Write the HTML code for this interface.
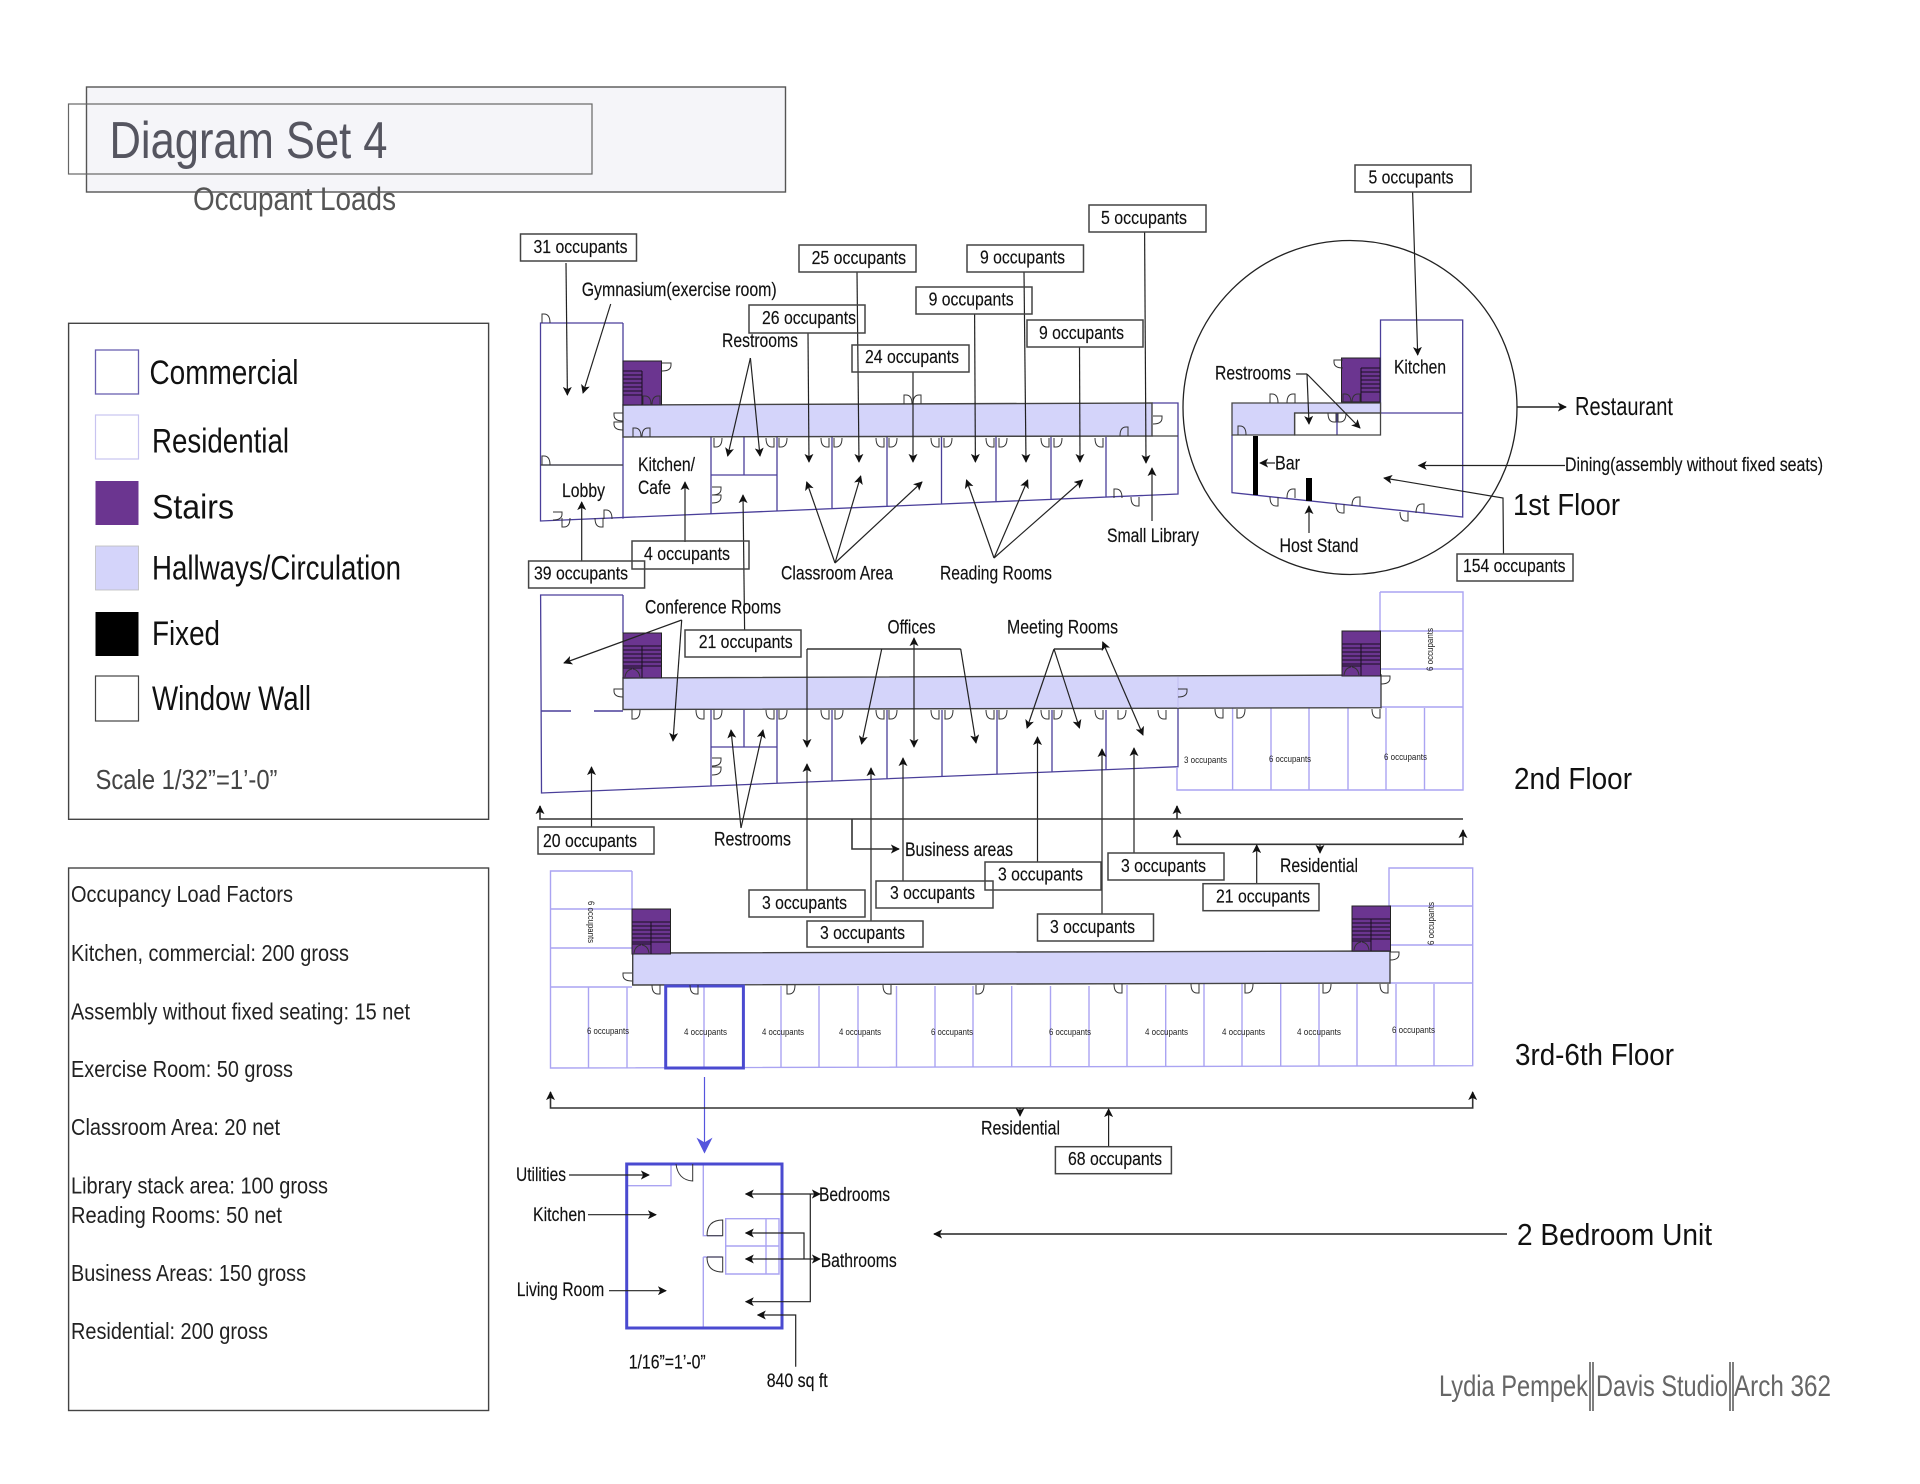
<!DOCTYPE html>
<html>
<head>
<meta charset="utf-8">
<style>
html,body{margin:0;padding:0;background:#fff;width:1920px;height:1484px;overflow:hidden}
svg{display:block}
text{font-family:"Liberation Sans",Arial,sans-serif;fill:#111}
.l{font-size:19px;stroke:#111;stroke-width:.15}
.o{font-size:18px;stroke:#111;stroke-width:.15}
.s{font-size:9.5px;fill:#222}
.f{font-size:31px}
.g{font-size:34px}
.k{font-size:23px;fill:#222}
.ar{fill:none;stroke:#222;stroke-width:1.2;marker-end:url(#a)}
.br{fill:none;stroke:#333;stroke-width:1.6}
.ln{fill:none;stroke:#222;stroke-width:1.2}
.box{fill:none;stroke:#444;stroke-width:1.5}
.c{fill:none;stroke:#4a3f9a;stroke-width:1.3}
.r{fill:none;stroke:#aaa4f2;stroke-width:1.4}
.h{fill:#d4d4fa;stroke:#444;stroke-width:1.4}
.d{fill:none;stroke:#333;stroke-width:1}
</style>
</head>
<body>
<svg width="1920" height="1484" viewBox="0 0 1920 1484" xmlns="http://www.w3.org/2000/svg">
<defs>
<marker id="a" viewBox="0 0 10 10" refX="9" refY="5" markerWidth="9" markerHeight="9" markerUnits="userSpaceOnUse" orient="auto-start-reverse"><path d="M0 0L10 5 0 10 2.5 5z" fill="#111"/></marker>
<marker id="b" viewBox="0 0 10 10" refX="9" refY="5" markerWidth="16" markerHeight="16" markerUnits="userSpaceOnUse" orient="auto"><path d="M0 0L10 5 0 10 3 5z" fill="#5555dd"/></marker>
<path id="dR" class="d" d="M0 0V9H2Q8 9 8 0"/>
<path id="dL" class="d" d="M8 0V9H6Q0 9 0 0"/>
<path id="uR" class="d" d="M0 9V0H2Q8 0 8 9"/>
<path id="uL" class="d" d="M8 9V0H6Q0 0 0 9"/>
<path id="sR" class="d" d="M0 0H9V2Q9 8 0 8"/>
<path id="sL" class="d" d="M9 0H0V2Q0 8 9 8"/>
<g id="st">
<rect width="38.5" height="45" fill="#6b3590" stroke="#222" stroke-width="1"/>
<path d="M0 13H38M0 17H38M0 21H38M0 25H38M0 29H38M0 33H38M19 13V45M0 35H19V45" stroke="#1a1020" stroke-width="1" fill="none"/>
<path class="d" d="M2 44Q3 37 9 36M17 44Q16 37 10 36" stroke="#ddd"/>
</g>
<g id="st1">
<rect width="38.5" height="44" fill="#6b3590" stroke="#222" stroke-width="1"/>
<path d="M19 10V44M0 10H19M0 14H19M0 18H19M0 22H19M0 26H19M0 30H19M0 34H19" stroke="#1a1020" stroke-width="1" fill="none"/>
</g>
</defs>

<!-- Title -->
<rect x="86.5" y="87" width="699" height="105" fill="#f5f5f9" stroke="#555" stroke-width="1.4"/>
<rect x="68.5" y="104" width="523.5" height="70" fill="none" stroke="#666" stroke-width="1.2"/>
<text x="109.5" y="158" font-size="52" textLength="278" lengthAdjust="spacingAndGlyphs" style="fill:#555560">Diagram Set 4</text>
<text x="193" y="210" font-size="32" textLength="203" lengthAdjust="spacingAndGlyphs" style="fill:#555">Occupant Loads</text>

<!-- Legend -->
<rect x="68.6" y="323.3" width="420" height="496" fill="#fff" stroke="#444" stroke-width="1.4"/>
<rect x="95.5" y="350" width="43" height="44" fill="#fff" stroke="#6a60b0" stroke-width="1.3"/>
<text class="g" x="149.5" y="384" textLength="149" lengthAdjust="spacingAndGlyphs">Commercial</text>
<rect x="95.5" y="415" width="43" height="44" fill="#fff" stroke="#c8c4f0" stroke-width="1.2"/>
<text class="g" x="152" y="452.5" textLength="137" lengthAdjust="spacingAndGlyphs">Residential</text>
<rect x="95.5" y="481" width="43" height="44" fill="#6b3590"/>
<text class="g" x="152" y="518.5" textLength="82" lengthAdjust="spacingAndGlyphs">Stairs</text>
<rect x="95.5" y="546" width="43" height="44" fill="#d4d4fa" stroke="#bbb" stroke-width=".8"/>
<text class="g" x="152" y="579.5" textLength="249" lengthAdjust="spacingAndGlyphs">Hallways/Circulation</text>
<rect x="95.5" y="612" width="43" height="44" fill="#000"/>
<text class="g" x="152" y="645" textLength="68" lengthAdjust="spacingAndGlyphs">Fixed</text>
<rect x="95.5" y="676" width="43" height="45" fill="#fff" stroke="#444" stroke-width="1.2"/>
<text class="g" x="152" y="710" textLength="159" lengthAdjust="spacingAndGlyphs">Window Wall</text>
<text x="95.5" y="789" font-size="28" textLength="182" lengthAdjust="spacingAndGlyphs" style="fill:#444">Scale 1/32”=1’-0”</text>

<!-- Factors -->
<rect x="68.6" y="868" width="420" height="542.5" fill="#fff" stroke="#444" stroke-width="1.4"/>
<text class="k" x="71" y="902" textLength="222" lengthAdjust="spacingAndGlyphs">Occupancy Load Factors</text>
<text class="k" x="71" y="961" textLength="278" lengthAdjust="spacingAndGlyphs">Kitchen, commercial: 200 gross</text>
<text class="k" x="71" y="1019.5" textLength="339" lengthAdjust="spacingAndGlyphs">Assembly without fixed seating: 15 net</text>
<text class="k" x="71" y="1077" textLength="222" lengthAdjust="spacingAndGlyphs">Exercise Room: 50 gross</text>
<text class="k" x="71" y="1135" textLength="209" lengthAdjust="spacingAndGlyphs">Classroom Area: 20 net</text>
<text class="k" x="71" y="1193.5" textLength="257" lengthAdjust="spacingAndGlyphs">Library stack area: 100 gross</text>
<text class="k" x="71" y="1223" textLength="211" lengthAdjust="spacingAndGlyphs">Reading Rooms: 50 net</text>
<text class="k" x="71" y="1281" textLength="235" lengthAdjust="spacingAndGlyphs">Business Areas: 150 gross</text>
<text class="k" x="71" y="1339" textLength="197" lengthAdjust="spacingAndGlyphs">Residential: 200 gross</text>

<!-- 1st floor plan -->
<path class="c" d="M623 323H540.5V521L1178 494V403H1152M623 465H540.5M623 323V519M711 437V514M711 475H777M744 437V475M777 437V511M832 437V509M887 437V506.5M941.5 437V504M996 437V502M1051 437V499.5M1106 437V497"/>
<path d="M540.5 465H623" stroke="#444" stroke-width="1.2"/>
<path class="h" d="M623 405L1152 403V436L623 437Z"/>
<path d="M1152 436H1178" stroke="#444" stroke-width="1.2"/>
<use href="#st1" x="623" y="361"/>
<g>
<use href="#uR" x="542" y="314"/><use href="#sR" x="662" y="363"/>
<use href="#uR" x="643" y="396"/><use href="#uL" x="652" y="396"/>
<use href="#sL" x="614" y="413"/><use href="#sL" x="614" y="422"/>
<use href="#uR" x="633" y="428"/><use href="#uL" x="642" y="428"/>
<use href="#uR" x="904" y="395"/><use href="#uL" x="913" y="395"/>
<use href="#uR" x="542" y="456"/>
<use href="#sR" x="553" y="512"/><use href="#dR" x="562" y="518"/>
<use href="#uR" x="604" y="510"/><use href="#dL" x="595" y="518"/>
<use href="#sR" x="712" y="487"/><use href="#sR" x="712" y="495"/>
<use href="#sR" x="1153" y="416"/><use href="#uL" x="1120" y="427"/>
<use href="#uR" x="1114" y="489"/><use href="#dL" x="1131" y="497"/>
<use href="#dR" x="714" y="438"/><use href="#dL" x="766" y="438"/><use href="#dR" x="779" y="438"/>
<use href="#dL" x="821" y="438"/><use href="#dR" x="834" y="438"/>
<use href="#dL" x="876" y="438"/><use href="#dR" x="889" y="438"/>
<use href="#dL" x="931" y="438"/><use href="#dR" x="944" y="438"/>
<use href="#dL" x="986" y="438"/><use href="#dR" x="999" y="438"/>
<use href="#dL" x="1041" y="438"/><use href="#dR" x="1054" y="438"/>
<use href="#dL" x="1095" y="438"/>
</g>

<!-- Restaurant -->
<circle cx="1350" cy="407.5" r="167" fill="none" stroke="#222" stroke-width="1.3"/>
<path class="c" d="M1380.5 413V320H1462.7V517L1232 492.7V435M1380.5 413H1462.7M1337 413V435"/>
<path d="M1232 403H1380.5V413H1294.6V435H1232Z" fill="#d4d4fa" stroke="#444" stroke-width="1.3"/>
<path d="M1294.6 413H1380.5V435H1294.6Z" fill="none" stroke="#444" stroke-width="1.3"/>
<use href="#st1" x="1342" y="358" transform="translate(2722 0) scale(-1 1)"/>
<rect x="1253" y="436" width="5" height="59" fill="#000"/>
<rect x="1306" y="478" width="6" height="23" fill="#000"/>
<g>
<use href="#uR" x="1270" y="394"/><use href="#uL" x="1287" y="394"/>
<use href="#sL" x="1334" y="360"/>
<use href="#uR" x="1343" y="394"/><use href="#uL" x="1352" y="394"/>
<use href="#uR" x="1238" y="426"/>
<use href="#dL" x="1328" y="413"/><use href="#dR" x="1338" y="413"/>
<use href="#dL" x="1270" y="497"/><use href="#uL" x="1287" y="489"/>
<use href="#dL" x="1336" y="504"/><use href="#uL" x="1352" y="497"/>
<use href="#dL" x="1400" y="512"/><use href="#uL" x="1416" y="504"/>
</g>

<!-- 2nd floor plan -->
<path class="c" d="M623 595H540.6L541.5 793L1178 766.7V708M623 595V633M711 710V786M711 747H777M744 710V747M777 710V783M832 710V781M887 710V779M942 710V776.5M997 710V774M1052 710V772M1106 710V770"/>
<path d="M541 711H571M594 711H623" stroke="#4a3f9a" stroke-width="1.6"/>
<path class="r" d="M1380 592H1463V790H1177V767M1380 592V675M1380 631H1463M1380 669H1463M1380 707H1463M1232.6 708V790M1271 708V790M1309 708V790M1348 708V790M1386 708V790M1424.5 708V790"/>
<path class="h" d="M623 678L1381 675V707.7L623 709.5Z"/>
<path d="M1178 677V708" stroke="#c0bcf0" stroke-width="1"/>
<use href="#st" x="623" y="633"/><use href="#st" x="1342" y="631"/>
<g>
<use href="#dR" x="632" y="710"/><use href="#dL" x="696" y="710"/><use href="#dR" x="714" y="710"/>
<use href="#dL" x="766" y="710"/><use href="#dR" x="779" y="710"/><use href="#dL" x="821" y="710"/><use href="#dR" x="835" y="710"/>
<use href="#dL" x="876" y="710"/><use href="#dR" x="889" y="710"/><use href="#dL" x="931" y="710"/><use href="#dR" x="945" y="710"/>
<use href="#dL" x="986" y="710"/><use href="#dR" x="999" y="710"/><use href="#dL" x="1041" y="710"/><use href="#dR" x="1054" y="710"/>
<use href="#dL" x="1095" y="710"/><use href="#dR" x="1118" y="710"/><use href="#dL" x="1158" y="710"/>
<use href="#dL" x="1215" y="709"/><use href="#dR" x="1237" y="709"/><use href="#dL" x="1372" y="709"/>
<use href="#sR" x="1178" y="689"/><use href="#sR" x="1381" y="676"/>
<use href="#sL" x="614" y="689"/><use href="#sR" x="712" y="758"/><use href="#sR" x="712" y="767"/>
</g>
<text class="s" x="1184" y="763" textLength="43" lengthAdjust="spacingAndGlyphs">3 occupants</text>
<text class="s" x="1269" y="762" textLength="42" lengthAdjust="spacingAndGlyphs">6 occupants</text>
<text class="s" x="1384" y="760" textLength="43" lengthAdjust="spacingAndGlyphs">6 occupants</text>
<text class="s" transform="translate(1433 671) rotate(-90)" textLength="43" lengthAdjust="spacingAndGlyphs">6 occupants</text>

<!-- 3rd-6th floor plan -->
<path class="r" d="M632 871H550.5V1068L1472.7 1065.7V868H1389V907M632 871V909M550.5 909H632M550.5 948H632M550.5 987H632M1389 906H1472.7M1389 945H1472.7M1389 983H1472.7M588.5 987V1068M627 987V1068M781 986V1068M819 986V1068M858 986V1067M896.5 986V1067M935 986V1067M973 986V1067M1011.7 986V1067M1050.5 986V1067M1089 986V1067M1127 985V1067M1165.7 985V1067M1204 984V1066M1242 984V1066M1280.7 984V1066M1319 984V1066M1357 984V1066M1396 984V1066M1434 984V1066M704 986V1068"/>
<path class="h" d="M632.7 953L1390 951V983L632.7 985Z"/>
<use href="#st" x="632" y="909"/><use href="#st" x="1352" y="906"/>
<rect x="665.7" y="986" width="77.7" height="82" fill="none" stroke="#4a4ad0" stroke-width="3"/>
<g>
<use href="#dL" x="652" y="985"/><use href="#dL" x="690" y="985"/><use href="#dR" x="787" y="985"/>
<use href="#dL" x="883" y="985"/><use href="#dR" x="976" y="985"/><use href="#dL" x="1114" y="984"/>
<use href="#dL" x="1191" y="984"/><use href="#dR" x="1245" y="984"/><use href="#dR" x="1323" y="984"/><use href="#dL" x="1380" y="984"/>
<use href="#sL" x="623" y="973"/><use href="#sR" x="1390" y="952"/>
</g>
<text class="s" x="587" y="1034" textLength="42" lengthAdjust="spacingAndGlyphs">6 occupants</text>
<text class="s" x="684" y="1035" textLength="43" lengthAdjust="spacingAndGlyphs">4 occupants</text>
<text class="s" x="762" y="1035" textLength="42" lengthAdjust="spacingAndGlyphs">4 occupants</text>
<text class="s" x="839" y="1035" textLength="42" lengthAdjust="spacingAndGlyphs">4 occupants</text>
<text class="s" x="931" y="1035" textLength="42" lengthAdjust="spacingAndGlyphs">6 occupants</text>
<text class="s" x="1049" y="1035" textLength="42" lengthAdjust="spacingAndGlyphs">6 occupants</text>
<text class="s" x="1145" y="1035" textLength="43" lengthAdjust="spacingAndGlyphs">4 occupants</text>
<text class="s" x="1222" y="1035" textLength="43" lengthAdjust="spacingAndGlyphs">4 occupants</text>
<text class="s" x="1297" y="1035" textLength="44" lengthAdjust="spacingAndGlyphs">4 occupants</text>
<text class="s" x="1392" y="1033" textLength="43" lengthAdjust="spacingAndGlyphs">6 occupants</text>
<text class="s" transform="translate(588 901) rotate(90)" textLength="42" lengthAdjust="spacingAndGlyphs">6 occupants</text>
<text class="s" transform="translate(1434 945) rotate(-90)" textLength="43" lengthAdjust="spacingAndGlyphs">6 occupants</text>

<!-- Unit -->
<path class="r" d="M627 1185.7H671V1164M703.3 1164V1235.7H722M703.3 1257H722M703.3 1257V1328M725.7 1218.7H779V1274H725.7ZM725.7 1246H779M766 1218.7V1274"/>
<rect x="626.7" y="1164" width="155.3" height="164" fill="none" stroke="#4a4ad0" stroke-width="3"/>
<path class="d" d="M676 1164Q678 1180 692.7 1181V1164M707 1235.7Q707 1220 722.7 1220V1235.7H707M707 1257Q707 1272 722.7 1272V1257H707" stroke-width="1.2"/>
<path d="M704.5 1077V1152" fill="none" stroke="#5555dd" stroke-width="1.2" marker-end="url(#b)"/>

<!-- Arrows and connector lines -->
<g>
<path class="ar" d="M566 263L567.4 395"/><path class="ar" d="M610.7 304L583 393"/>
<path class="ar" d="M750.4 358L727.7 456"/><path class="ar" d="M750.4 358L760 456"/>
<path class="ar" d="M808 333L809 462"/><path class="ar" d="M857 272L859 462"/>
<path class="ar" d="M913 372V462"/><path class="ar" d="M974.6 314L975.4 462"/>
<path class="ar" d="M1024 272L1026 462"/><path class="ar" d="M1079.5 347L1080 462"/>
<path class="ar" d="M1144.6 232L1146 463"/><path class="ar" d="M1152 521V468"/>
<path class="ar" d="M835 563L806.7 482"/><path class="ar" d="M835 563L860.7 476"/><path class="ar" d="M835 563L922 482"/>
<path class="ar" d="M994 558L966.5 480"/><path class="ar" d="M994 558L1027.7 480"/><path class="ar" d="M994 558L1082.6 480"/>
<path class="ar" d="M581.7 561V502"/><path class="ar" d="M685 542V482"/><path class="ar" d="M744.6 630L743 495"/>

<path class="ar" d="M1412.6 192L1417.7 355"/><path class="ar" d="M1275 463H1260"/>
<path class="ln" d="M1296 374H1307"/><path class="ar" d="M1307 374L1309 424"/><path class="ar" d="M1307 374L1360 428"/>
<path class="ar" d="M1517 407H1566" style="stroke-width:1.4"/><path class="ar" d="M1565 465.5H1418.6"/>
<path class="ar" d="M1503.5 554L1503 498L1384 478"/><path class="ar" d="M1309 533V506"/>

<path class="ar" d="M591.5 827V767"/><path class="ar" d="M807 890V764"/><path class="ar" d="M871 921V768"/>
<path class="ar" d="M903 881V758"/><path class="ar" d="M1037.5 862V737"/><path class="ar" d="M1102 914V749"/><path class="ar" d="M1134 853V748"/>
<path class="ar" d="M741 828L731 730"/><path class="ar" d="M741 828L763 730"/>
<path class="ar" d="M681.7 620L564 663"/><path class="ar" d="M681.7 620L673 741"/>
<path class="br" d="M807 649H960.7"/><path class="ar" d="M807 649V747"/><path class="ar" d="M881.7 649L861.6 744"/><path class="ar" d="M960.7 649L976 743"/>
<path class="ar" d="M914 747V638" style="marker-start:url(#a)"/>
<path class="br" d="M1054 649H1102.7"/><path class="ar" d="M1054 649L1027 728"/><path class="ar" d="M1054 649L1079.5 728"/>
<path class="ar" d="M1143 735L1102.7 642" style="marker-start:url(#a)"/>

<path class="br" d="M540 806V819H1463" style="marker-start:url(#a)"/>
<path class="br" d="M1177 819V806" style="marker-end:url(#a)"/>
<path class="br" d="M1177 830V844.3H1463V830" style="marker-start:url(#a);marker-end:url(#a)"/>
<path class="ar" d="M1320 844V853"/><path class="ar" d="M1256.7 884V845"/>
<path class="br" d="M852 819V849H899" style="marker-end:url(#a)"/>

<path class="br" d="M550.5 1092V1108H1472.7V1092" style="marker-start:url(#a);marker-end:url(#a)"/>
<path class="ar" d="M1020 1108V1116"/><path class="ar" d="M1108.6 1147V1109"/>

<path class="ar" d="M569 1175H649"/><path class="ar" d="M588 1214.7H656"/><path class="ar" d="M609 1290.7H666"/>
<path class="ar" d="M820 1194H745.7" style="marker-start:url(#a)"/>
<path class="ar" d="M810.3 1194V1301.7H745.7"/>
<path class="ar" d="M820 1259H745.7" style="marker-start:url(#a)"/>
<path class="ar" d="M804 1259V1233H745.7"/>
<path class="ar" d="M795.7 1366.7V1315H757.7"/>
<path class="ar" d="M1507 1234H934" style="stroke-width:1.5"/>
</g>

<!-- Occupant boxes -->
<g>
<rect class="box" x="520.5" y="234" width="116" height="27"/><text class="o" x="533.5" y="253" textLength="94" lengthAdjust="spacingAndGlyphs">31 occupants</text>
<rect class="box" x="799" y="245" width="117" height="27"/><text class="o" x="811.6" y="264" textLength="94.5" lengthAdjust="spacingAndGlyphs">25 occupants</text>
<rect class="box" x="967" y="245" width="116.5" height="27"/><text class="o" x="980" y="263.5" textLength="85" lengthAdjust="spacingAndGlyphs">9 occupants</text>
<rect class="box" x="1089" y="205" width="117" height="27"/><text class="o" x="1101" y="224" textLength="86" lengthAdjust="spacingAndGlyphs">5 occupants</text>
<rect class="box" x="749" y="305" width="116" height="28"/><text class="o" x="762" y="324" textLength="94" lengthAdjust="spacingAndGlyphs">26 occupants</text>
<rect class="box" x="916" y="287" width="116" height="27"/><text class="o" x="928.6" y="305.5" textLength="85" lengthAdjust="spacingAndGlyphs">9 occupants</text>
<rect class="box" x="1027" y="320" width="116" height="27"/><text class="o" x="1039" y="339" textLength="85" lengthAdjust="spacingAndGlyphs">9 occupants</text>
<rect class="box" x="852" y="345" width="117" height="27"/><text class="o" x="865" y="363" textLength="94" lengthAdjust="spacingAndGlyphs">24 occupants</text>
<rect class="box" x="632" y="541" width="117" height="28"/><text class="o" x="644" y="560" textLength="86" lengthAdjust="spacingAndGlyphs">4 occupants</text>
<rect class="box" x="528.6" y="561" width="116" height="27"/><text class="o" x="534" y="579.5" textLength="94" lengthAdjust="spacingAndGlyphs">39 occupants</text>
<rect class="box" x="1355" y="165" width="116" height="27"/><text class="o" x="1368.5" y="183.5" textLength="85" lengthAdjust="spacingAndGlyphs">5 occupants</text>
<rect class="box" x="1457" y="554" width="116" height="27"/><text class="o" x="1463" y="572" textLength="102.5" lengthAdjust="spacingAndGlyphs">154 occupants</text>
<rect class="box" x="685" y="630" width="116" height="27"/><text class="o" x="698.7" y="648" textLength="94" lengthAdjust="spacingAndGlyphs">21 occupants</text>
<rect class="box" x="538" y="827" width="116" height="27"/><text class="o" x="543" y="847" textLength="94" lengthAdjust="spacingAndGlyphs">20 occupants</text>
<rect class="box" x="749" y="890" width="116" height="27"/><text class="o" x="762" y="909" textLength="85" lengthAdjust="spacingAndGlyphs">3 occupants</text>
<rect class="box" x="807" y="921" width="116" height="26"/><text class="o" x="820" y="939" textLength="85" lengthAdjust="spacingAndGlyphs">3 occupants</text>
<rect class="box" x="876" y="881" width="117" height="27"/><text class="o" x="890" y="899" textLength="85" lengthAdjust="spacingAndGlyphs">3 occupants</text>
<rect class="box" x="985" y="862" width="116" height="28"/><text class="o" x="998" y="880.5" textLength="85" lengthAdjust="spacingAndGlyphs">3 occupants</text>
<rect class="box" x="1037.5" y="914" width="116" height="27"/><text class="o" x="1050" y="933" textLength="85" lengthAdjust="spacingAndGlyphs">3 occupants</text>
<rect class="box" x="1108" y="853" width="116" height="27"/><text class="o" x="1121" y="872" textLength="85" lengthAdjust="spacingAndGlyphs">3 occupants</text>
<rect class="box" x="1203" y="883.7" width="116" height="27"/><text class="o" x="1216" y="902.5" textLength="94" lengthAdjust="spacingAndGlyphs">21 occupants</text>
<rect class="box" x="1055.4" y="1146.7" width="116" height="27"/><text class="o" x="1068" y="1165" textLength="94" lengthAdjust="spacingAndGlyphs">68 occupants</text>
</g>

<!-- Labels -->
<g>
<text class="l" x="581.7" y="296" textLength="195" lengthAdjust="spacingAndGlyphs">Gymnasium(exercise room)</text>
<text class="l" x="722" y="347" textLength="76" lengthAdjust="spacingAndGlyphs">Restrooms</text>
<text class="l" x="638" y="471" textLength="57" lengthAdjust="spacingAndGlyphs">Kitchen/</text>
<text class="l" x="638" y="494" textLength="33" lengthAdjust="spacingAndGlyphs">Cafe</text>
<text class="l" x="562" y="497" textLength="43" lengthAdjust="spacingAndGlyphs">Lobby</text>
<text class="l" x="1107" y="542" textLength="92" lengthAdjust="spacingAndGlyphs">Small Library</text>
<text class="l" x="781" y="579.5" textLength="112" lengthAdjust="spacingAndGlyphs">Classroom Area</text>
<text class="l" x="940" y="579.5" textLength="112" lengthAdjust="spacingAndGlyphs">Reading Rooms</text>
<text class="l" x="1394" y="373.5" textLength="52" lengthAdjust="spacingAndGlyphs">Kitchen</text>
<text class="l" x="1215" y="379.5" textLength="76" lengthAdjust="spacingAndGlyphs">Restrooms</text>
<text class="l" x="1275" y="469.5" textLength="25" lengthAdjust="spacingAndGlyphs">Bar</text>
<text class="l" x="1279.5" y="552" textLength="79" lengthAdjust="spacingAndGlyphs">Host Stand</text>
<text x="1575" y="415" font-size="26" textLength="98" lengthAdjust="spacingAndGlyphs">Restaurant</text>
<text class="l" x="1565" y="471" textLength="258" lengthAdjust="spacingAndGlyphs">Dining(assembly without fixed seats)</text>
<text class="f" x="1513" y="515" textLength="107" lengthAdjust="spacingAndGlyphs">1st Floor</text>
<text class="l" x="645" y="613.5" textLength="136" lengthAdjust="spacingAndGlyphs">Conference Rooms</text>
<text class="l" x="887.5" y="633.5" textLength="48" lengthAdjust="spacingAndGlyphs">Offices</text>
<text class="l" x="1007" y="633.5" textLength="111" lengthAdjust="spacingAndGlyphs">Meeting Rooms</text>
<text class="l" x="714" y="845.5" textLength="77" lengthAdjust="spacingAndGlyphs">Restrooms</text>
<text class="l" x="905" y="856" textLength="108" lengthAdjust="spacingAndGlyphs">Business areas</text>
<text class="l" x="1280" y="872" textLength="78" lengthAdjust="spacingAndGlyphs">Residential</text>
<text class="l" x="981" y="1134.5" textLength="79" lengthAdjust="spacingAndGlyphs">Residential</text>
<text class="f" x="1514" y="789" textLength="118" lengthAdjust="spacingAndGlyphs">2nd Floor</text>
<text class="f" x="1515" y="1065" textLength="159" lengthAdjust="spacingAndGlyphs">3rd-6th Floor</text>
<text class="l" x="516" y="1181" textLength="50" lengthAdjust="spacingAndGlyphs">Utilities</text>
<text class="l" x="533" y="1221" textLength="53" lengthAdjust="spacingAndGlyphs">Kitchen</text>
<text class="l" x="516.7" y="1296" textLength="87.5" lengthAdjust="spacingAndGlyphs">Living Room</text>
<text class="l" x="819" y="1201" textLength="71" lengthAdjust="spacingAndGlyphs">Bedrooms</text>
<text class="l" x="820.7" y="1267" textLength="76" lengthAdjust="spacingAndGlyphs">Bathrooms</text>
<text class="l" x="628.7" y="1368.5" textLength="77" lengthAdjust="spacingAndGlyphs">1/16”=1’-0”</text>
<text class="l" x="766.7" y="1387" textLength="61" lengthAdjust="spacingAndGlyphs">840 sq ft</text>
<text class="f" x="1517" y="1245" textLength="195" lengthAdjust="spacingAndGlyphs">2 Bedroom Unit</text>
</g>

<!-- Credit -->
<text x="1439" y="1396" font-size="30" textLength="149" lengthAdjust="spacingAndGlyphs" style="fill:#666">Lydia Pempek</text>
<text x="1596" y="1396" font-size="30" textLength="132" lengthAdjust="spacingAndGlyphs" style="fill:#666">Davis Studio</text>
<text x="1734" y="1396" font-size="30" textLength="97" lengthAdjust="spacingAndGlyphs" style="fill:#666">Arch 362</text>
<path d="M1590 1362V1411M1593 1362V1411M1730 1362V1411M1733 1362V1411" stroke="#555" stroke-width="1.5"/>
</svg>
</body>
</html>
